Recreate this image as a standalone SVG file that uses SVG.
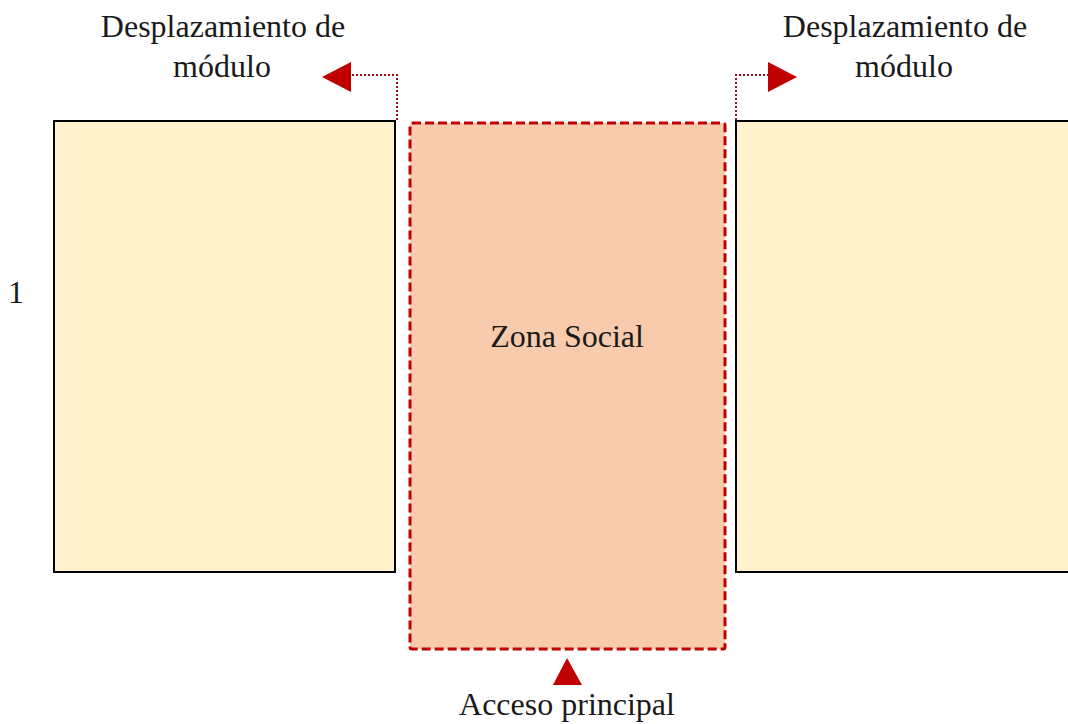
<svg xmlns="http://www.w3.org/2000/svg" width="1068" height="724" viewBox="0 0 1068 724">
<style>
.t{font-family:"Liberation Serif","Times New Roman",serif;font-size:32px;fill:#1a1a1a;text-anchor:middle}
.mod{fill:#FFF2CC;stroke:#000;stroke-width:2}
.soc{fill:#F8CBAD;stroke:#C00000;stroke-width:3;stroke-dasharray:9 4}
.dot{fill:none;stroke:#A0101A;stroke-width:2;stroke-dasharray:2 2}
.arr{fill:#C00000}
</style>
<rect width="1068" height="724" fill="#fff"/>
<g id="modulo-izq">
<rect class="mod" x="54" y="121" width="341" height="451"/>
</g>
<g id="zona-social">
<rect class="soc" x="410" y="123" width="315" height="526" rx="2"/>
<text class="t" x="567" y="347">Zona Social</text>
</g>
<g id="modulo-der">
<rect class="mod" x="736" y="121" width="340" height="451"/>
</g>
<g id="label-1"><text class="t" x="16" y="303">1</text></g>
<g id="label-izq">
<text class="t" x="223" y="37">Desplazamiento de</text>
<text class="t" x="222" y="77">módulo</text>
</g>
<g id="label-der">
<text class="t" x="905" y="37">Desplazamiento de</text>
<text class="t" x="904" y="77">módulo</text>
</g>
<g id="label-acceso">
<text class="t" x="567" y="715">Acceso principal</text>
</g>
<g id="connectors">
<polyline class="dot" points="397,120 397,75 351,75"/>
<polygon class="arr" points="322,77 351,62 351,92"/>
<polyline class="dot" points="736,120 736,75 768,75"/>
<polygon class="arr" points="797,77 768,62 768,92"/>
<polygon class="arr" points="567,658 553,685 582,685"/>
</g>
</svg>
